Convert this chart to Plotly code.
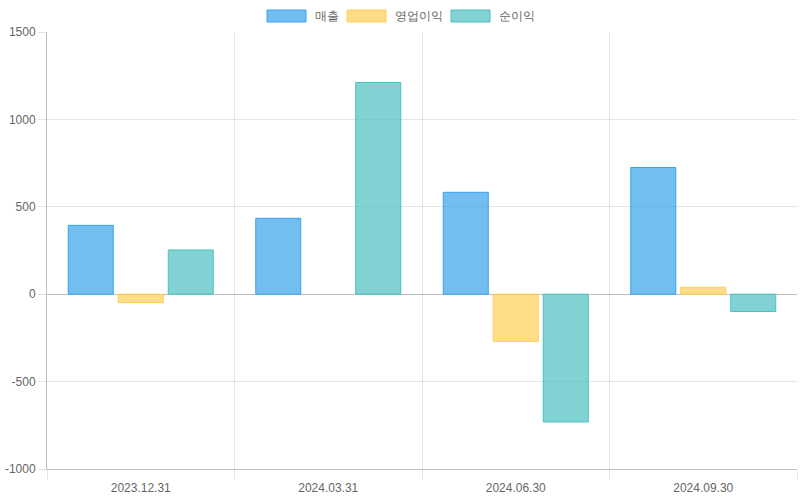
import plotly.graph_objects as go

categories = ["2023.12.31", "2024.03.31", "2024.06.30", "2024.09.30"]
sales = [394, 434, 583, 725]
op_profit = [-48, 0, -271, 40]
net_profit = [253, 1211, -731, -99]
series_names = ["매출", "영업이익", "순이익"]
y_ticks = [-1000, -500, 0, 500, 1000, 1500]

fills = ["rgba(54,162,235,0.7)", "rgba(255,206,86,0.7)", "rgba(75,192,192,0.7)"]
borders = ["rgb(54,162,235)", "rgb(255,206,86)", "rgb(75,192,192)"]

font_family = "Liberation Sans, Arial, Helvetica, sans-serif"

fig = go.Figure()
for name, vals, f, b in zip(series_names, [sales, op_profit, net_profit], fills, borders):
    widths = [0 if v == 0 else 1 for v in vals]
    fig.add_trace(go.Bar(
        x=categories, y=vals, name=name,
        marker=dict(color=f, line=dict(color=b, width=widths)),
        showlegend=False,
    ))

fig.update_layout(
    width=800, height=500,
    margin=dict(l=47, r=3, t=32, b=31),
    paper_bgcolor="white", plot_bgcolor="white",
    barmode="group", bargap=0.2, bargroupgap=0.1,
    font=dict(family=font_family, size=12, color="#666"),
)
fig.update_xaxes(
    type="category", tickson="boundaries",
    showgrid=True, gridcolor="rgba(0,0,0,0.1)", gridwidth=1,
    ticks="outside", ticklen=10, tickcolor="rgba(0,0,0,0.1)",
    showline=True, linecolor="rgba(0,0,0,0.25)", linewidth=1,
    tickfont=dict(size=12, color="#666"),
    ticklabelstandoff=8,
    range=[-0.5, 3.5],
)
fig.update_yaxes(
    range=[-1000, 1500], tickvals=y_ticks,
    ticktext=[str(v) for v in y_ticks],
    showgrid=True, gridcolor="rgba(0,0,0,0.1)", gridwidth=1,
    zeroline=True, zerolinecolor="rgba(0,0,0,0.25)", zerolinewidth=1,
    ticks="outside", ticklen=8, tickcolor="rgba(0,0,0,0.1)",
    showline=True, linecolor="rgba(0,0,0,0.25)", linewidth=1,
    tickfont=dict(size=12, color="#666"),
)

# custom legend (Chart.js style boxes)
legend_boxes = [(267, 306, 313), (347, 386, 393), (451, 490, 497)]
for (x0, x1, tx), name, f, b in zip(legend_boxes, series_names, fills, borders):
    fig.add_shape(type="rect", xref="paper", yref="paper",
                  x0=(x0 - 47) / 750, x1=(x1 - 47) / 750,
                  y0=(469 - 22) / 437, y1=(469 - 10) / 437,
                  fillcolor=f, line=dict(color=b, width=1), layer="above")
    fig.add_annotation(xref="paper", yref="paper",
                       x=(tx - 47) / 750, y=(469 - 16) / 437,
                       text=name, showarrow=False, xanchor="left", yanchor="middle",
                       font=dict(size=12, color="#666", family=font_family))

fig.write_html("out.html")
